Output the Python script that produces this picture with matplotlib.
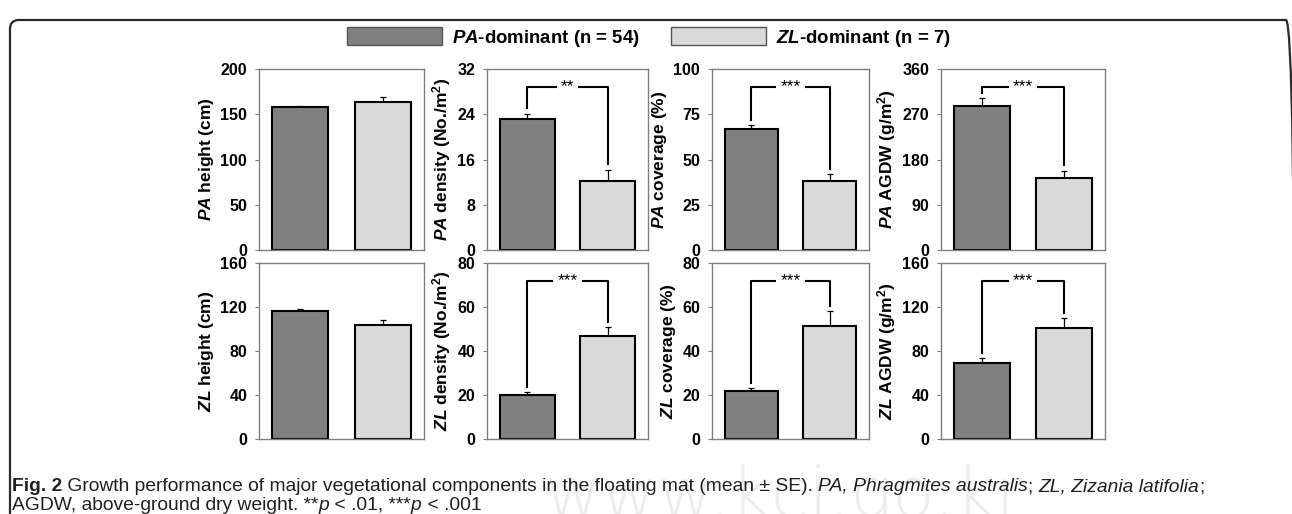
import matplotlib
matplotlib.use('Agg')
import matplotlib.pyplot as plt
import matplotlib.transforms as mtransforms
from matplotlib.patches import FancyBboxPatch, Patch
import numpy as np

plt.rcParams['font.family'] = ['Liberation Sans', 'DejaVu Sans']
plt.rcParams['mathtext.fontset'] = 'custom'
plt.rcParams['mathtext.rm'] = 'Liberation Sans:bold'
plt.rcParams['mathtext.it'] = 'Liberation Sans:italic:bold'
plt.rcParams['mathtext.bf'] = 'Liberation Sans:bold'

# groups
groups = [r'$\it{PA}$-dominant (n = 54)', r'$\it{ZL}$-dominant (n = 7)']
bar_colors = ['#808080', '#d9d9d9']

# panel data (mean, SE)
pa_height = [158, 164]
pa_height_se = [1, 5.5]
pa_density = [23.1, 12.2]
pa_density_se = [1.0, 2.0]
pa_cover = [67, 38]
pa_cover_se = [2, 4]
pa_agdw = [287, 143]
pa_agdw_se = [15, 15]
zl_height = [116, 103.5]
zl_height_se = [2, 4.5]
zl_density = [20.2, 46.8]
zl_density_se = [1, 4]
zl_cover = [21.7, 51.5]
zl_cover_se = [1.4, 6.6]
zl_agdw = [69.5, 100.8]
zl_agdw_se = [4, 9.4]

ylabels = [r'$\it{PA}$ height (cm)', r'$\it{PA}$ density (No./m$^2$)', r'$\it{PA}$ coverage (%)', r'$\it{PA}$ AGDW (g/m$^2$)',
           r'$\it{ZL}$ height (cm)', r'$\it{ZL}$ density (No./m$^2$)', r'$\it{ZL}$ coverage (%)', r'$\it{ZL}$ AGDW (g/m$^2$)']
yticks = [[0, 50, 100, 150, 200], [0, 8, 16, 24, 32], [0, 25, 50, 75, 100], [0, 90, 180, 270, 360],
          [0, 40, 80, 120, 160], [0, 20, 40, 60, 80], [0, 20, 40, 60, 80], [0, 40, 80, 120, 160]]
signif = ['', '**', '***', '***', '', '***', '***', '***']

means = [pa_height, pa_density, pa_cover, pa_agdw, zl_height, zl_density, zl_cover, zl_agdw]
ses = [pa_height_se, pa_density_se, pa_cover_se, pa_agdw_se, zl_height_se, zl_density_se, zl_cover_se, zl_agdw_se]

W, H = 1292, 514
fig = plt.figure(figsize=(W / 100, H / 100), dpi=100)

# axes boxes in pixels (left, top, width, height)
cols = [(259, 165), (487, 161), (712, 157), (941, 164)]
rows = [(69, 181), (263, 176)]

for i in range(8):
    r, c = divmod(i, 4)
    x0, w = cols[c]
    y0, h = rows[r]
    ax = fig.add_axes([x0 / W, 1 - (y0 + h) / H, w / W, h / H])
    x = np.arange(2)
    ax.bar(x, means[i], width=0.68, color=bar_colors, edgecolor='black', linewidth=1.5, zorder=2)
    ax.errorbar(x, means[i], yerr=[[0, 0], ses[i]], fmt='none', ecolor='black',
                elinewidth=0.9, capsize=2.5, capthick=0.9, zorder=1)
    ymax = yticks[i][-1]
    ax.set_ylim(0, ymax)
    ax.set_xlim(-0.5, 1.5)
    ax.set_yticks(yticks[i])
    ax.set_xticks([])
    for s in ax.spines.values():
        s.set_color('#7f7f7f')
        s.set_linewidth(1.0)
    ax.tick_params(axis='y', direction='out', length=3, width=0.8, color='#7f7f7f',
                   labelsize=11.5, pad=5.5)
    for lab in ax.get_yticklabels():
        lab.set_fontweight('bold')
    ax.set_ylabel(ylabels[i], fontsize=12.5, fontweight='bold', labelpad=3)
    if signif[i]:
        top = 0.9 * ymax
        gap = 0.03 * ymax
        legs = [m + e + gap for m, e in zip(means[i], ses[i])]
        ax.plot([0, 0, 1, 1], [legs[0], top, top, legs[1]], color='black', lw=1.5, zorder=3)
        ax.text(0.5, top, signif[i], ha='center', va='center', fontsize=12.5,
                bbox=dict(facecolor='white', edgecolor='none', pad=3), zorder=4)

# legend
handles = [Patch(facecolor=bar_colors[k], edgecolor='#555555', linewidth=1.0) for k in range(2)]
fig.legend(handles, groups, loc='center', bbox_to_anchor=(649 / W, 1 - 38 / H), ncol=2, frameon=False,
           handlelength=5.1, handleheight=1.1, handletextpad=0.55, columnspacing=1.7,
           prop=dict(size=13.4, weight='bold'))

# outer frame
px = mtransforms.IdentityTransform()
frame = FancyBboxPatch((10, -40), 1285, H - 10 + 40 - 10, boxstyle='round,pad=0,rounding_size=9',
                       transform=px, facecolor='none', edgecolor='#2a2a2a', linewidth=1.6, zorder=0)
fig.patches.append(frame)

# watermark
fig.text(785 / W, 1 - 498 / H, 'www.kci.go.kr', ha='center', va='center', fontsize=50,
         color='#ececec', family='DejaVu Sans', fontweight='light', zorder=-1)

# caption, drawn run by run
renderer = fig.canvas.get_renderer()
cap_font = ['Liberation Sans', 'DejaVu Sans']
cap_size = 13.9


def run_width(s, **kw):
    t1 = fig.text(0, 0, '|' + s + '|', transform=px, **kw)
    t2 = fig.text(0, 0, '||', transform=px, **kw)
    wdt = t1.get_window_extent(renderer).width - t2.get_window_extent(renderer).width
    t1.remove()
    t2.remove()
    return wdt


def draw_runs(x, y, runs):
    for s, style, weight in runs:
        kw = dict(family=cap_font, fontsize=cap_size, style=style, weight=weight, color='#231f20')
        fig.text(x, y, s, transform=px, va='baseline', **kw)
        x += run_width(s, **kw)


line1 = [('Fig. 2', 'normal', 'bold'),
         (' Growth performance of major vegetational components in the floating mat (mean \u00b1 SE). ', 'normal', 'normal'),
         ('PA, Phragmites australis', 'italic', 'normal'), ('; ', 'normal', 'normal'),
         ('ZL, Zizania latifolia', 'italic', 'normal'), (';', 'normal', 'normal')]
line2 = [('AGDW, above-ground dry weight. **', 'normal', 'normal'), ('p', 'italic', 'normal'),
         (' < .01, ***', 'normal', 'normal'), ('p', 'italic', 'normal'), (' < .001', 'normal', 'normal')]
draw_runs(12, H - 491, line1)
draw_runs(12, H - 510, line2)

fig.savefig('out.png', dpi=100)
